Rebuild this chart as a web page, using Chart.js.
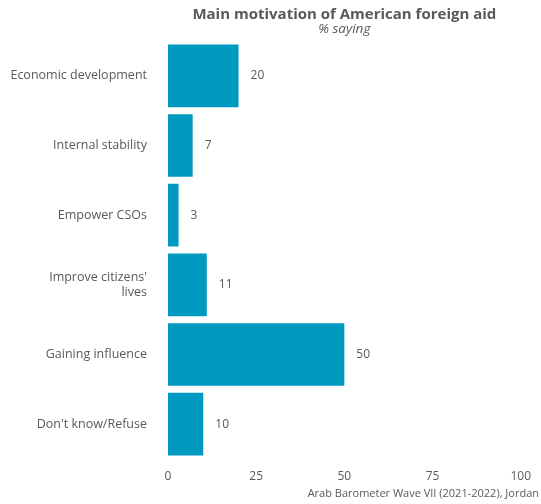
<!DOCTYPE html>
<html>
<head>
<meta charset="utf-8">
<script src="https://cdn.jsdelivr.net/npm/chart.js@4"></script>
<style>
  html, body { margin: 0; padding: 0; background: #fff; }
  #wrap { width: 541px; height: 504px; }
</style>
</head>
<body>
<div id="wrap"><canvas id="myChart" width="541" height="504"></canvas></div>
<script>
const categories = [
    'Economic development',
    'Internal stability',
    'Empower CSOs',
    ["Improve citizens'", 'lives'],
    'Gaining influence',
    "Don't know/Refuse"
];
const values = [20, 7, 3, 11, 50, 10];
const xTicks = [0, 25, 50, 75, 100];

const titleText = 'Main motivation of American foreign aid';
const subtitleText = '% saying';
const captionText = 'Arab Barometer Wave VII (2021-2022), Jordan';

const FONT = '"Open Sans", "Noto Sans", sans-serif';
const grey = '#595959';

// titles, caption and value labels
const extras = {
    id: 'extras',
    afterDatasetsDraw(chart) {
        const c = chart.ctx;
        const area = chart.chartArea;
        const mid = (area.left + area.right) / 2;
        c.save();
        c.fillStyle = grey;
        c.textAlign = 'center';
        c.textBaseline = 'middle';
        c.font = 'bold 15px ' + FONT;
        c.fillText(titleText, mid, 15);
        c.font = 'italic 13.5px ' + FONT;
        c.fillText(subtitleText, mid, 29);

        c.textAlign = 'right';
        c.font = '11px ' + FONT;
        c.fillText(captionText, chart.width - 2, 494);

        c.textAlign = 'left';
        c.font = '12px ' + FONT;
        const meta = chart.getDatasetMeta(0);
        meta.data.forEach((bar, i) => {
            c.fillText(String(values[i]), bar.x + 12, bar.y);
        });
        c.restore();
    }
};

const ctx = document.getElementById('myChart');
const myChart = new Chart(ctx, {
    type: 'bar',
    data: {
        labels: categories,
        datasets: [{
            label: '% saying',
            data: values,
            backgroundColor: '#0099bf',
            borderWidth: 0,
            barPercentage: 0.9,
            categoryPercentage: 1.0
        }]
    },
    options: {
        indexAxis: 'y',
        responsive: false,
        animation: false,
        layout: {
            padding: { top: 41, right: 20, bottom: 0, left: 0 }
        },
        plugins: {
            legend: { display: false },
            title: { display: false },
            tooltip: { enabled: false }
        },
        scales: {
            x: {
                min: 0,
                max: 100,
                afterBuildTicks(scale) {
                    scale.ticks = xTicks.map(v => ({ value: v }));
                },
                afterFit(scale) { scale.height = 45; },
                grid: { display: false, drawTicks: false },
                border: { display: false },
                ticks: {
                    color: grey,
                    padding: 10,
                    font: { family: FONT, size: 12 }
                }
            },
            y: {
                afterFit(scale) { scale.width = 168; },
                grid: { display: false, drawTicks: false },
                border: { display: false },
                ticks: {
                    color: grey,
                    padding: 21,
                    font: { family: FONT, size: 12.5 }
                }
            }
        }
    },
    plugins: [extras]
});
</script>
</body>
</html>
